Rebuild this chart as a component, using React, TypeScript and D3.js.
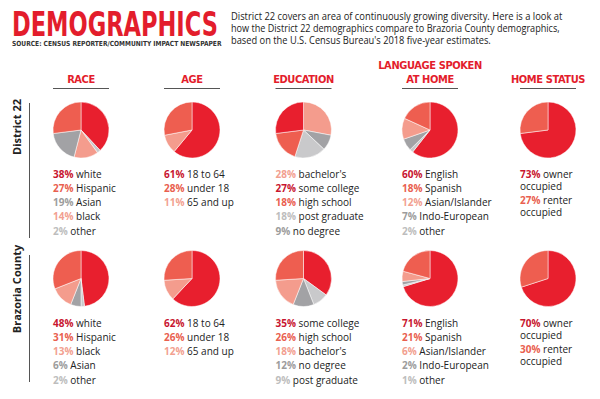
import React, { useEffect, useRef } from 'react';
import * as d3 from 'd3';

// rows and column headers
const rowLabels = ['District 22', 'Brazoria County'];
const headers = [['RACE'], ['AGE'], ['EDUCATION'], ['LANGUAGE SPOKEN', 'AT HOME'], ['HOME STATUS']];

const descLines = [
  'District 22 covers an area of continuously growing diversity. Here is a look at',
  'how the District 22 demographics compare to Brazoria County demographics,',
  "based on the U.S. Census Bureau's 2018 five-year estimates.",
];

// values per column, District 22 then Brazoria County (legend order)
const raceD22 = [{ label: 'white', value: 38, tone: 'red' }, { label: 'Hispanic', value: 27, tone: 'coral' }, { label: 'Asian', value: 19, tone: 'gray' }, { label: 'black', value: 14, tone: 'light' }, { label: 'other', value: 2, tone: 'pale' }];
const raceBC = [{ label: 'white', value: 48, tone: 'red' }, { label: 'Hispanic', value: 31, tone: 'coral' }, { label: 'black', value: 13, tone: 'light' }, { label: 'Asian', value: 6, tone: 'gray' }, { label: 'other', value: 2, tone: 'pale' }];
const ageD22 = [{ label: '18 to 64', value: 61, tone: 'red' }, { label: 'under 18', value: 28, tone: 'coral' }, { label: '65 and up', value: 11, tone: 'light' }];
const ageBC = [{ label: '18 to 64', value: 62, tone: 'red' }, { label: 'under 18', value: 26, tone: 'coral' }, { label: '65 and up', value: 12, tone: 'light' }];
const eduD22 = [{ label: "bachelor's", value: 28, tone: 'light' }, { label: 'some college', value: 27, tone: 'red' }, { label: 'high school', value: 18, tone: 'coral' }, { label: 'post graduate', value: 18, tone: 'pale' }, { label: 'no degree', value: 9, tone: 'gray' }];
const eduBC = [{ label: 'some college', value: 35, tone: 'red' }, { label: 'high school', value: 26, tone: 'coral' }, { label: "bachelor's", value: 18, tone: 'light' }, { label: 'no degree', value: 12, tone: 'gray' }, { label: 'post graduate', value: 9, tone: 'pale' }];
const langD22 = [{ label: 'English', value: 60, tone: 'red' }, { label: 'Spanish', value: 18, tone: 'coral' }, { label: 'Asian/Islander', value: 12, tone: 'light' }, { label: 'Indo-European', value: 7, tone: 'gray' }, { label: 'other', value: 2, tone: 'pale' }];
const langBC = [{ label: 'English', value: 71, tone: 'red' }, { label: 'Spanish', value: 21, tone: 'coral' }, { label: 'Asian/Islander', value: 6, tone: 'light' }, { label: 'Indo-European', value: 2, tone: 'gray' }, { label: 'other', value: 1, tone: 'pale' }];
const homeD22 = [{ label: 'owner', value: 73, tone: 'red' }, { label: 'renter', value: 27, tone: 'coral' }];
const homeBC = [{ label: 'owner', value: 70, tone: 'red' }, { label: 'renter', value: 30, tone: 'coral' }];

const grid = [
  [raceD22, ageD22, eduD22, langD22, homeD22],
  [raceBC, ageBC, eduBC, langBC, homeBC],
];

const fill: Record<string, string> = { red: '#e81f2e', coral: '#ee5e50', light: '#f49c8d', gray: '#a2a2a5', pale: '#c9c9cb' };
const pctColor: Record<string, string> = { red: '#c81630', coral: '#e9604f', light: '#f29f90', gray: '#9c9c9c', pale: '#bdbdbd' };

const colX = [81, 192, 303.5, 430, 548];
const rowY = [130, 278.5];
const legendY = [177.5, 326.5];
const R = 28;

const arc = d3.arc<d3.PieArcDatum<any>>().innerRadius(0).outerRadius(R);
const pie = d3.pie<any>().sort(null).value(d => d.value);

const bodyFont = "'Open Sans', 'Noto Sans', sans-serif";
const condFont = "'DejaVu Sans Condensed', 'DejaVu Sans', sans-serif";

export default function App() {
  const svgRef = useRef<SVGSVGElement>(null);

  useEffect(() => {
    document.body.style.margin = '0';
    document.body.style.background = '#fff';
    // squeeze the condensed texts to the widths seen in the print layout
    d3.select(svgRef.current).selectAll<SVGTextElement, unknown>('text[data-w]').each(function () {
      const el = this;
      const target = +(el.getAttribute('data-w') || 0);
      const x = +(el.getAttribute('data-x') || 0);
      const y = +(el.getAttribute('data-y') || 0);
      const len = el.getComputedTextLength();
      if (len > 0) el.setAttribute('transform', `translate(${x},${y}) scale(${target / len},1)`);
    });
  }, []);

  return (
    <svg ref={svgRef} width={600} height={399} style={{ display: 'block', background: '#fff' }}>
      <text data-w={206} data-x={12} data-y={36} transform="translate(12,36)" fontFamily={condFont} fontWeight="bold" fontSize={33} fill="#e31d2c">DEMOGRAPHICS</text>
      <text data-w={210} data-x={12} data-y={46} transform="translate(12,46)" fontFamily={condFont} fontWeight="bold" fontSize={7} fill="#333">SOURCE: CENSUS REPORTER/COMMUNITY IMPACT NEWSPAPER</text>
      {descLines.map((l, i) => (
        <text key={i} data-w={[332, 329, 260][i]} data-x={231} data-y={20 + i * 12} transform={`translate(231,${20 + i * 12})`} fontFamily={bodyFont} fontSize={10.5} fill="#222">{l}</text>
      ))}

      {headers.map((h, i) => (
        <g key={i}>
          {h.map((line, j) => (
            <text key={j} x={colX[i]} y={83 - (h.length - 1 - j) * 14} textAnchor="middle" fontFamily={condFont} fontWeight="bold" fontSize={11} letterSpacing={-0.4} fill="#e31d2c">{line}</text>
          ))}
          <line x1={colX[i] - 28} x2={colX[i] + 28} y1={88.5} y2={88.5} stroke="#555" strokeWidth={1} />
        </g>
      ))}

      {rowLabels.map((r, i) => {
        const cy = i === 0 ? 127 : 289;
        return (
          <g key={r}>
            <text transform={`translate(21,${cy}) rotate(-90)`} textAnchor="middle" fontFamily={bodyFont} fontWeight="bold" fontSize={11} fill="#222">{r}</text>
            <line x1={29.5} x2={29.5} y1={i === 0 ? 103 : 255} y2={i === 0 ? 238 : 382} stroke="#555" strokeWidth={1} />
          </g>
        );
      })}

      {grid.map((row, ri) =>
        row.map((data, ci) => {
          const ordered = [data[0], ...data.slice(1).reverse()];
          const arcs = pie(ordered);
          const x0 = colX[ci] - R;
          const isHome = ci === 4;
          return (
            <g key={`${ri}-${ci}`}>
              <g transform={`translate(${colX[ci]},${rowY[ri]})`}>
                {arcs.map((a, k) => (
                  <path key={k} d={arc(a) || ''} fill={fill[a.data.tone]} stroke="#fff" strokeWidth={0.5} />
                ))}
              </g>
              {data.map((d, k) =>
                isHome ? (
                  <text key={k} x={x0} y={legendY[ri] + k * 26} fontFamily={bodyFont} fontSize={10} fill="#222">
                    <tspan fontWeight="bold" fill={pctColor[d.tone]}>{d.value}%</tspan>
                    <tspan> {d.label}</tspan>
                    <tspan x={x0} dy={12}>occupied</tspan>
                  </text>
                ) : (
                  <text key={k} x={x0} y={legendY[ri] + k * 14.3} fontFamily={bodyFont} fontSize={10} fill="#222">
                    <tspan fontWeight="bold" fill={pctColor[d.tone]}>{d.value}%</tspan>
                    <tspan> {d.label}</tspan>
                  </text>
                )
              )}
            </g>
          );
        })
      )}
    </svg>
  );
}
